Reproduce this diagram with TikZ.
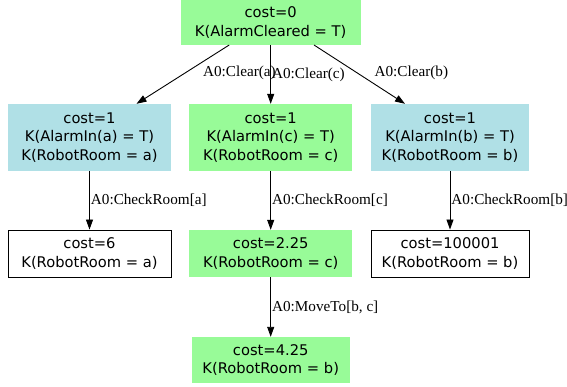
\documentclass[tikz,border=0pt]{standalone}
\usepackage{fontspec}
\usepackage{xcolor}
\usetikzlibrary{calc,
	positioning,
	arrows.meta}
\newfontfamily\statefont{DejaVu Sans}
\newfontfamily\actfont{Liberation Serif}
\definecolor{pgreen}{HTML}{98FB98}
\definecolor{pblue}{HTML}{B0E0E6}
\tikzstyle{st}=[inner sep=0, align=center, font={\statefont\fontsize{14.7}{18.8}\selectfont}]
\tikzstyle{stg}=[st, fill=pgreen]
\tikzstyle{stb}=[st, fill=pblue]
\tikzstyle{stw}=[st, draw, line width=0.9pt]
\tikzstyle{act}=[inner sep=1pt, anchor=west, font={\actfont\fontsize{15.2}{17}\selectfont}]
\tikzstyle{tr}=[-{Triangle[length=10pt,width=7pt]}, line width=0.9pt]

\begin{document}
\begin{tikzpicture}[x=1pt,y=-1pt]
                \useasboundingbox (0,0) rectangle (567,387);
                % start state
                \node[stg, minimum width=180pt, minimum height=45pt] (c0) at (270.7,22.3) {cost=0\\K(AlarmCleared = T)};
                % after clearing
                \node[stb, minimum width=163pt, minimum height=67pt] (a1) at (89.5,137.5) {cost=1\\K(AlarmIn(a) = T)\\K(RobotRoom = a)};
                \node[stg, minimum width=163pt, minimum height=67pt] (c1) at (270.7,137.5) {cost=1\\K(AlarmIn(c) = T)\\K(RobotRoom = c)};
                \node[stb, minimum width=158pt, minimum height=67pt] (b1) at (450,137.5) {cost=1\\K(AlarmIn(b) = T)\\K(RobotRoom = b)};
                % after checking
                \node[stw, minimum width=163pt, minimum height=47pt] (a2) at (89.5,253.5) {cost=6\\K(RobotRoom = a)};
                \node[stg, minimum width=163pt, minimum height=47pt] (c2) at (270.7,253.5) {cost=2.25\\K(RobotRoom = c)};
                \node[stw, minimum width=158pt, minimum height=47pt] (b2) at (450,253.5) {cost=100001\\K(RobotRoom = b)};
                % goal
                \node[stg, minimum width=158pt, minimum height=46pt] (c3) at (270.7,360) {cost=4.25\\K(RobotRoom = b)};

                \draw[tr] ($(c0.south)+(-41.5,0)$) -- node[act, pos=.48, xshift=17pt] {A0:Clear(a)} ($(a1.north)+(47,0)$);
                \draw[tr] (c0) -- node[act] {A0:Clear(c)} (c1);
                \draw[tr] ($(c0.south)+(43.3,0)$) -- node[act, pos=.48, xshift=15.5pt] {A0:Clear(b)} ($(b1.north)+(-45,0)$);
                \draw[tr] (a1) -- node[act] {A0:CheckRoom[a]} (a2);
                \draw[tr] (c1) -- node[act] {A0:CheckRoom[c]} (c2);
                \draw[tr] (b1) -- node[act] {A0:CheckRoom[b]} (b2);
                \draw[tr] (c2) -- node[act] {A0:MoveTo[b, c]} (c3);
            \end{tikzpicture}
\end{document}
